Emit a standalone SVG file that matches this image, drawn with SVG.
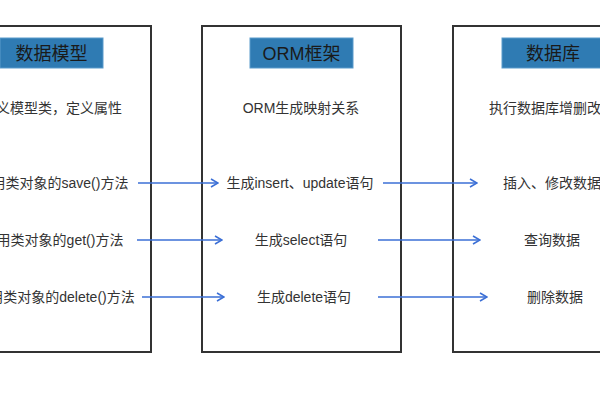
<svg xmlns="http://www.w3.org/2000/svg" width="600" height="400" viewBox="0 0 600 400">
<style>
.box{fill:#fff;stroke:#333;stroke-width:2}
.hdr{fill:#2f7bb3;stroke:#5a9bcb;stroke-width:1}
.ht{font-family:"Liberation Sans","Noto Sans CJK SC",sans-serif;font-size:18px;fill:#1a1a1a;text-anchor:middle}
.t{font-family:"Liberation Sans","Noto Sans CJK SC",sans-serif;font-size:14px;fill:#333;text-anchor:middle}
.arr{stroke:#3b6fd6;stroke-width:1.6;fill:none;marker-end:url(#ah)}
</style>
<defs>
<marker id="ah" viewBox="0 0 10 10" refX="9" refY="5" markerWidth="10" markerHeight="10" markerUnits="userSpaceOnUse" orient="auto">
<path d="M2,1 L9,5 L2,9" fill="none" stroke="#3b6fd6" stroke-width="1.6"/>
</marker>
</defs>
<rect width="600" height="400" fill="#fff"/>
<g id="model">
<rect class="box" x="-48" y="26" width="199" height="326"/>
<rect class="hdr" x="0" y="38" width="103" height="30"/>
<text class="ht" x="51.5" y="59.5">数据模型</text>
<text class="t" x="52" y="113">定义模型类，定义属性</text>
<text class="t" x="53" y="188">调用类对象的save()方法</text>
<text class="t" x="53" y="245">调用类对象的get()方法</text>
<text class="t" x="55" y="302">调用类对象的delete()方法</text>
</g>
<g id="orm">
<rect class="box" x="202" y="26" width="199" height="326"/>
<rect class="hdr" x="250" y="38" width="103" height="30"/>
<text class="ht" x="301.5" y="59.5">ORM框架</text>
<text class="t" x="301" y="113">ORM生成映射关系</text>
<text class="t" x="300" y="188">生成insert、update语句</text>
<text class="t" x="301" y="245">生成select语句</text>
<text class="t" x="304" y="302">生成delete语句</text>
</g>
<g id="db">
<rect class="box" x="453" y="26" width="199" height="326"/>
<rect class="hdr" x="502" y="38" width="103" height="30"/>
<text class="ht" x="553" y="59.5">数据库</text>
<text class="t" x="552" y="113">执行数据库增删改查</text>
<text class="t" x="552" y="188">插入、修改数据</text>
<text class="t" x="552" y="245">查询数据</text>
<text class="t" x="555" y="302">删除数据</text>
</g>
<g id="connectors">
<line class="arr" x1="138" y1="183" x2="218" y2="183"/>
<line class="arr" x1="137" y1="240" x2="222" y2="240"/>
<line class="arr" x1="142" y1="297" x2="224" y2="297"/>
<line class="arr" x1="383" y1="183" x2="477" y2="183"/>
<line class="arr" x1="378" y1="240" x2="480" y2="240"/>
<line class="arr" x1="378" y1="297" x2="487" y2="297"/>
</g>
</svg>
